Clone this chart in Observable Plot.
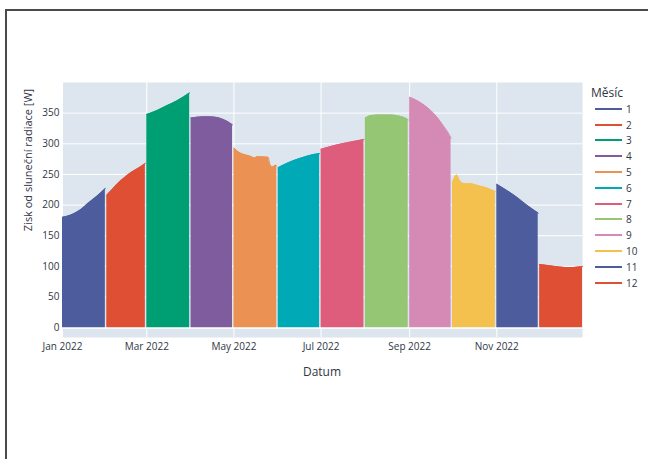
<!DOCTYPE html>
<html>
<head>
<meta charset="utf-8">
<script src="https://cdn.jsdelivr.net/npm/d3@7"></script>
<script src="https://cdn.jsdelivr.net/npm/@observablehq/plot@0.6"></script>
<style>
  html, body { margin: 0; padding: 0; background: white; }
  #wrap { position: relative; width: 648px; height: 459px; overflow: hidden; font-family: "Open Sans", sans-serif; color: #2f3644; }
  #frame { position: absolute; left: 5px; top: 9px; width: 700px; height: 500px; border-top: 2px solid #4a4a4a; border-left: 2px solid #4a4a4a; }
  .ttl { position: absolute; white-space: nowrap; }
  #ytitle { left: 27px; top: 160px; font-size: 11px; transform: translate(-50%, -50%) rotate(-90deg); }
  #xtitle { left: 322px; top: 371px; font-size: 12px; transform: translate(-50%, -50%); }
  #legend { position: absolute; left: 591px; top: 84px; font-size: 10px; }
  #legend .lt { font-size: 12px; height: 17px; line-height: 17px; }
  #legend .it { display: flex; align-items: center; height: 15.8px; }
  #legend .sw { width: 27px; height: 2px; margin: 0 4px 0 4px; }
</style>
</head>
<body>
<div id="wrap">
  <div id="chart"></div>
  <div id="frame"></div>
  <div class="ttl" id="ytitle">Zisk od sluneční radiace [W]</div>
  <div class="ttl" id="xtitle">Datum</div>
  <div id="legend"></div>
</div>
<script>
// Day-of-month / value samples, one array per month
const jan = [[1,180],[9,186],[14,193],[19,203],[26,216],[31,227]];
const feb = [[1,216],[5,226],[10,238],[15,248],[20,256],[25,263],[28,268]];
const mar = [[1,348],[8,354],[15,362],[22,370],[31,383]];
const apr = [[1,342],[9,344],[14,344],[19,343],[26,337],[30,331]];
const may = [[1,293],[4,287],[12,280],[16,277],[17,279],[25,278],[26,268],[28,262],[30,265],[31,264]];
const jun = [[1,261],[7,268],[16,276],[23,281],[30,284]];
const jul = [[1,291],[10,297],[20,302],[31,307]];
const aug = [[1,342],[5,346],[10,347],[18,347],[25,345],[29,342],[31,339]];
const sep = [[1,376],[5,372],[10,365],[15,356],[20,344],[25,328],[28,318],[30,309]];
const oct = [[1,236],[4,249],[6,240],[9,235],[13,235],[20,231],[26,227],[31,222]];
const nov = [[1,234],[8,224],[15,213],[22,200],[30,187]];
const dec = [[1,103],[8,101],[15,99],[22,98],[28,99],[31,100]];

const monthSeries = [jan, feb, mar, apr, may, jun, jul, aug, sep, oct, nov, dec];
const monthLabels = ["1","2","3","4","5","6","7","8","9","10","11","12"];
const monthColors = ["#4c5c9c","#de4f33","#009e73","#7f5c9d","#ea9153","#00a9b6",
                     "#de5d7c","#94c674","#d58ab6","#f4c04e","#4c5c9c","#de4f33"];
const yTicks = [0, 50, 100, 150, 200, 250, 300, 350];
const xTickDates = ["2022-01-01","2022-03-01","2022-05-01","2022-07-01","2022-09-01","2022-11-01"];
const legendTitle = "Měsíc";

const data = monthSeries.flatMap((arr, m) =>
  arr.map(([d, v]) => ({date: new Date(Date.UTC(2022, m, d)), value: v, month: monthLabels[m]})));
const xTicks = xTickDates.map(s => new Date(s + "T00:00:00Z"));

const chart = Plot.plot({
  width: 648, height: 459,
  marginLeft: 62, marginRight: 66, marginTop: 82, marginBottom: 122,
  style: {fontFamily: "Open Sans", fontSize: "10px", color: "#2f3644", background: "transparent"},
  x: {type: "utc", domain: [new Date(Date.UTC(2022,0,1)), new Date(Date.UTC(2022,11,31))]},
  y: {domain: [-16, 400]},
  color: {domain: monthLabels, range: monthColors},
  marks: [
    Plot.frame({fill: "#dde6ef", stroke: null}),
    Plot.gridY(yTicks, {stroke: "white", strokeOpacity: 1, strokeWidth: 1}),
    Plot.gridX(xTicks, {stroke: "white", strokeOpacity: 1, strokeWidth: 1}),
    Plot.ruleY([0], {stroke: "white", strokeWidth: 2}),
    Plot.areaY(data, {x: "date", y: "value", z: "month", fill: "month", fillOpacity: 1, curve: "monotone-x"}),
    Plot.lineY(data, {x: "date", y: "value", z: "month", stroke: "month", strokeWidth: 1, curve: "monotone-x"}),
    Plot.axisY(yTicks, {tickSize: 0, tickPadding: 3, label: null}),
    Plot.axisX(xTicks, {tickSize: 0, tickPadding: 5, label: null, tickFormat: d3.utcFormat("%b %Y")})
  ]
});
document.getElementById("chart").appendChild(chart);

const lg = document.getElementById("legend");
const t = document.createElement("div"); t.className = "lt"; t.textContent = legendTitle; lg.appendChild(t);
monthLabels.forEach((lab, i) => {
  const it = document.createElement("div"); it.className = "it";
  const sw = document.createElement("div"); sw.className = "sw"; sw.style.background = monthColors[i];
  const tx = document.createElement("span"); tx.textContent = lab;
  it.appendChild(sw); it.appendChild(tx); lg.appendChild(it);
});
</script>
</body>
</html>
